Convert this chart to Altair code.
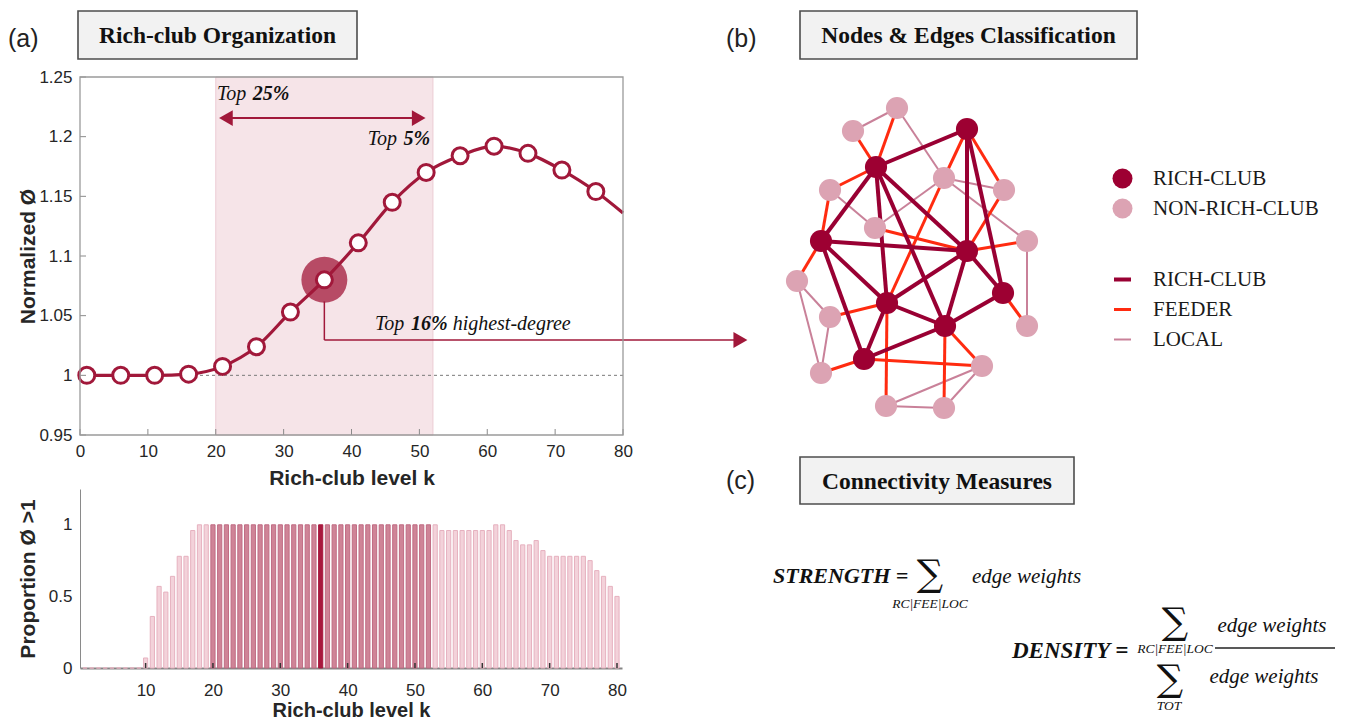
import altair as alt
import pandas as pd

# ---------------- data ----------------
# (a) rich-club curve: normalized phi vs rich-club level k
k_markers = [1, 6, 11, 16, 21, 26, 31, 36, 41, 46, 51, 56, 61, 66, 71, 76]
phi_markers = [1.000, 1.000, 1.000, 1.001, 1.0075, 1.024, 1.053, 1.080,
               1.111, 1.145, 1.170, 1.184, 1.192, 1.186, 1.172, 1.154]
k_tail = [80]
phi_tail = [1.136]
club_band = [20, 52]          # top 25% .. top 5%
focus_k = 36                  # top 16% highest-degree
x_ticks_top = [0, 10, 20, 30, 40, 50, 60, 70, 80]
y_ticks_top = [0.95, 1.0, 1.05, 1.1, 1.15, 1.2, 1.25]

# proportion of phi > 1 per level k
bar_k = list(range(1, 81))
bar_prop = ([0] * 9
            + [0.07, 0.36, 0.57, 0.53, 0.64, 0.78, 0.78, 0.96, 1, 1]
            + [1] * 33
            + [1]
            + [0.96] * 8
            + [1, 1, 0.96, 0.89, 0.86, 0.86, 0.89, 0.82]
            + [0.78] * 6
            + [0.75, 0.68, 0.64, 0.57, 0.50])
x_ticks_bot = [10, 20, 30, 40, 50, 60, 70, 80]
y_ticks_bot = [0, 0.5, 1]

# (b) network layout
node_id = ["R1", "R2", "R3", "R4", "R5", "R6", "R7", "R8",
           "N1", "N2", "N3", "N4", "N5", "N6", "N7", "N8", "N9", "N10", "N11", "N12", "N13", "N14"]
node_x = [207, 116, 61, 207, 243, 127, 185, 104,
          137, 93, 184, 70, 244, 115, 267, 37, 70, 267, 61, 222, 126, 184]
node_y = [52, 90, 164, 174, 216, 226, 249, 282,
          31, 54, 101, 113, 113, 151, 164, 204, 240, 249, 296, 289, 329, 331]
node_type = ["RICH-CLUB"] * 8 + ["NON-RICH-CLUB"] * 14

edges_local = [("N1", "N2"), ("N1", "N3"), ("N3", "N6"), ("N4", "N6"), ("N3", "N5"), ("N3", "N7"),
               ("N7", "N10"), ("N8", "N9"), ("N8", "N11"), ("N9", "N11"), ("N12", "N13"),
               ("N12", "N14"), ("N13", "N14")]
edges_feeder = [("N1", "R2"), ("N2", "R2"), ("N4", "R2"), ("N4", "R3"), ("R1", "N3"), ("R1", "N5"),
                ("N5", "R4"), ("N3", "R6"), ("N6", "R4"), ("N7", "R4"), ("N8", "R3"), ("N9", "R6"),
                ("N11", "R8"), ("R8", "N12"), ("R6", "N13"), ("R7", "N14"), ("R7", "N12"), ("R5", "N10")]
edges_rich = [("R1", "R2"), ("R1", "R4"), ("R1", "R5"), ("R2", "R3"), ("R2", "R4"), ("R2", "R6"),
              ("R2", "R7"), ("R3", "R4"), ("R3", "R6"), ("R3", "R8"), ("R4", "R6"), ("R4", "R7"),
              ("R4", "R5"), ("R5", "R7"), ("R6", "R7"), ("R6", "R8"), ("R7", "R8")]

node_types = ["RICH-CLUB", "NON-RICH-CLUB"]
node_colors = ["#9d0032", "#dca3b3"]
edge_types = ["RICH-CLUB", "FEEDER", "LOCAL"]
edge_colors = ["#990033", "#ff2b10", "#c98199"]

# texts
panel_labels = ["(a)", "(b)", "(c)"]
box_titles = ["Rich-club Organization", "Nodes & Edges Classification", "Connectivity Measures"]

# ---------------- styling ----------------
SANS = "Liberation Sans"
SERIF = "Liberation Serif"
DARK = "#a1183a"
W1, H1 = 543, 358
W2, H2 = 542, 179
WR = 580

one = alt.Data(values=[{"a": 0}])


def title_box(x0, x1, y0, y1, label):
    box = alt.Chart(one).mark_rect(fill="#f2f2f2", stroke="#4d4d4d", strokeWidth=1.6).encode(
        x=alt.value(x0), x2=alt.value(x1), y=alt.value(y0), y2=alt.value(y1))
    txt = alt.Chart(one).mark_text(text=label, font=SERIF, fontSize=23.5, fontWeight="bold",
                                   color="#111111", align="center", baseline="middle").encode(
        x=alt.value((x0 + x1) / 2), y=alt.value((y0 + y1) / 2 + 1))
    return [box, txt]


def panel_label(x, y, label):
    return alt.Chart(one).mark_text(text=label, font=SANS, fontSize=25, color="#222222",
                                    align="left", baseline="middle").encode(
        x=alt.value(x), y=alt.value(y))


# ---------------- (a) top chart ----------------
xs = alt.Scale(domain=[0, 80], nice=False, zero=False)
ys = alt.Scale(domain=[0.95, 1.25], nice=False, zero=False)
xa = alt.Axis(values=x_ticks_top, title="Rich-club level k", labelPadding=8, labelFlush=False,
              titleX=W1 / 2, titleY=43, titleBaseline="middle", domain=False)
ya = alt.Axis(values=y_ticks_top, format="~g", title="Normalized Ø", labelPadding=8, labelFlush=False,
              titleX=-52, titleY=H1 / 2, titleBaseline="middle", domain=False)

marker_df = pd.DataFrame({"k": k_markers, "phi": phi_markers})
line_df = pd.DataFrame({"k": k_markers + k_tail, "phi": phi_markers + phi_tail})
band_df = pd.DataFrame({"k": [club_band[0]], "k_end": [club_band[1]]})
xt_df = pd.DataFrame({"k": x_ticks_top})
yt_df = pd.DataFrame({"phi": y_ticks_top})


def XD(v):
    return alt.XDatum(v, scale=xs, axis=xa)


def YD(v):
    return alt.YDatum(v, scale=ys, axis=ya)


band = alt.Chart(band_df).mark_rect(fill="#f6e4e8", stroke="#ecccd4", strokeWidth=1).encode(
    x=alt.X("k:Q", scale=xs, axis=xa), x2="k_end:Q", y=alt.value(0), y2=alt.value(H1))
frame = alt.Chart(one).mark_rect(filled=False, stroke="#9a9a9a", strokeWidth=1.3).encode(
    x=alt.value(0), x2=alt.value(W1), y=alt.value(0), y2=alt.value(H1))
xticks = alt.Chart(xt_df).mark_rule(color="#8a8a8a", strokeWidth=1).encode(
    x=alt.X("k:Q", scale=xs, axis=xa), y=alt.value(H1), y2=alt.value(H1 - 6))
yticks = alt.Chart(yt_df).mark_rule(color="#8a8a8a", strokeWidth=1).encode(
    y=alt.Y("phi:Q", scale=ys, axis=ya), x=alt.value(0), x2=alt.value(6))
ref1 = alt.Chart(one).mark_rule(color="#7a7a7a", strokeWidth=1, strokeDash=[3, 3]).encode(
    y=YD(1.0))
curve = alt.Chart(line_df).mark_line(color=DARK, strokeWidth=3.2, interpolate="monotone").encode(
    x=alt.X("k:Q", scale=xs, axis=xa), y=alt.Y("phi:Q", scale=ys, axis=ya))
focus = alt.Chart(marker_df).transform_filter(alt.datum.k == focus_k).mark_circle(
    size=2116, color=DARK, opacity=0.75).encode(
    x=alt.X("k:Q", scale=xs, axis=xa), y=alt.Y("phi:Q", scale=ys, axis=ya))
conn_v = alt.Chart(one).mark_rule(color=DARK, strokeWidth=1.5).encode(
    x=XD(focus_k), y=YD(1.062), y2=alt.Y2Datum(1.0296))
conn_h = alt.Chart(one).mark_rule(color=DARK, strokeWidth=1.5).encode(
    x=XD(focus_k), x2=alt.X2Datum(97.0), y=YD(1.0296))
conn_head = alt.Chart(one).mark_point(shape="triangle-right", filled=True, size=260, color=DARK,
                                      opacity=1).encode(x=XD(97.3), y=YD(1.0296))
markers = alt.Chart(marker_df).mark_point(shape="circle", size=256, filled=True, fill="white",
                                          stroke=DARK, strokeWidth=3, opacity=1).encode(
    x=alt.X("k:Q", scale=xs, axis=xa), y=alt.Y("phi:Q", scale=ys, axis=ya))
arr_line = alt.Chart(one).mark_rule(color=DARK, strokeWidth=2).encode(
    x=XD(21.5), x2=alt.X2Datum(49.9), y=YD(1.2156))
arr_l = alt.Chart(one).mark_point(shape="triangle-left", filled=True, size=250, color=DARK,
                                  opacity=1).encode(x=XD(21.5), y=YD(1.2156))
arr_r = alt.Chart(one).mark_point(shape="triangle-right", filled=True, size=250, color=DARK,
                                  opacity=1).encode(x=XD(49.9), y=YD(1.2156))


def ann(text, k, phi, bold=False):
    return alt.Chart(one).mark_text(text=text, font=SERIF, fontSize=20, fontStyle="italic",
                                    fontWeight="bold" if bold else "normal", color="#111111",
                                    align="left", baseline="middle").encode(x=XD(k), y=YD(phi))


anns = [ann("Top", 20.18, 1.2357), ann("25%", 25.45, 1.2357, True),
        ann("Top", 42.4, 1.198), ann("5%", 47.65, 1.198, True),
        ann("Top", 43.45, 1.043), ann("16%", 48.75, 1.043, True), ann("highest-degree", 54.9, 1.043)]

top = alt.layer(
    band, ref1, curve, focus, conn_v, conn_h, conn_head, markers, arr_line, arr_l, arr_r,
    *anns, xticks, yticks, frame,
    *title_box(-2, 277, -66, -18, box_titles[0]),
    panel_label(-72, -38, panel_labels[0]),
).properties(width=W1, height=H1)

# ---------------- (a) bottom chart ----------------
bx = alt.Scale(domain=[1, 80], nice=False, zero=False)
by = alt.Scale(domain=[0, 1.25], nice=False)
bxa = alt.Axis(values=x_ticks_bot, title="Rich-club level k", labelPadding=14, labelFlush=False,
               titleX=W2 / 2, titleY=42.5, titleBaseline="middle", titleFontSize=20, domain=True,
               domainColor="#858585", domainWidth=2)
bya = alt.Axis(values=y_ticks_bot, format="~g", title="Proportion Ø >1", labelPadding=8,
               labelFlush=False, titleX=-52, titleY=H2 / 2, titleBaseline="middle", domain=True,
               domainColor="#8a8a8a", domainWidth=1)
bar_df = pd.DataFrame({"k": bar_k, "prop": bar_prop})


def bars(flt, fill, stroke):
    return alt.Chart(bar_df).transform_filter(flt).mark_bar(
        width=4.2, fill=fill, stroke=stroke, strokeWidth=1).encode(
        x=alt.X("k:Q", scale=bx, axis=bxa), y=alt.Y("prop:Q", scale=by, axis=bya))


in_club = (alt.datum.k >= club_band[0]) & (alt.datum.k <= club_band[1])
bars_light = bars(~in_club, "#f3d2da", "#e6b1bf")
bars_club = bars(in_club & (alt.datum.k != focus_k), "#cf8497", "#c06c84")
bars_focus = bars(alt.datum.k == focus_k, "#a8193e", "#a8193e")
bt_df = pd.DataFrame({"k": x_ticks_bot})
bticks = alt.Chart(bt_df).mark_rule(color="#333333", strokeWidth=1.5).encode(
    x=alt.X("k:Q", scale=bx, axis=bxa), y=alt.value(H2), y2=alt.value(H2 - 5))

bottom = alt.layer(bars_light, bars_club, bars_focus, bticks).properties(width=W2, height=H2)

# ---------------- (b) network ----------------
nx = alt.Scale(domain=[0, WR], nice=False, zero=False)
ny = alt.Scale(domain=[0, H1], nice=False, zero=False, reverse=True)
pos = {n: (x, y) for n, x, y in zip(node_id, node_x, node_y)}
erows = []
for lst, et in [(edges_local, "LOCAL"), (edges_feeder, "FEEDER"), (edges_rich, "RICH-CLUB")]:
    for a, b in lst:
        erows.append({"x1": pos[a][0], "y1": pos[a][1], "x2": pos[b][0], "y2": pos[b][1], "etype": et})
edge_df = pd.DataFrame(erows)
node_df = pd.DataFrame({"id": node_id, "x": node_x, "y": node_y, "ntype": node_type})

legend_common = dict(title=None, orient="none", labelFont=SERIF, labelFontSize=21,
                     labelColor="#1a1a1a", rowPadding=8, padding=0, labelLimit=400)

edges = alt.Chart(edge_df).mark_rule().encode(
    x=alt.X("x1:Q", scale=nx, axis=None), y=alt.Y("y1:Q", scale=ny, axis=None),
    x2="x2:Q", y2="y2:Q",
    stroke=alt.Stroke("etype:N", scale=alt.Scale(domain=edge_types, range=edge_colors),
                      legend=alt.Legend(legendX=352, legendY=192, symbolType="stroke",
                                        symbolStrokeWidth=5, symbolSize=289, labelOffset=20,
                                        **legend_common)),
    strokeWidth=alt.StrokeWidth("etype:N", scale=alt.Scale(domain=edge_types, range=[4, 2, 1.6]),
                                legend=None))
nodes = alt.Chart(node_df).mark_circle(opacity=1, size=490).encode(
    x=alt.X("x:Q", scale=nx, axis=None), y=alt.Y("y:Q", scale=ny, axis=None),
    fill=alt.Fill("ntype:N", scale=alt.Scale(domain=node_types, range=node_colors),
                  legend=alt.Legend(legendX=352, legendY=91, symbolType="circle", symbolSize=400,
                                    symbolStrokeWidth=0, labelOffset=20, **legend_common)))

network = alt.layer(
    edges, nodes,
    *title_box(40, 377, -66, -18, box_titles[1]),
    panel_label(-34, -38, panel_labels[1]),
).properties(width=WR, height=H1)

# ---------------- (c) formulas ----------------


def ftxt(text, x, y, size, style="italic", weight="normal", align="left", font=SERIF):
    return alt.Chart(one).mark_text(text=text, font=font, fontSize=size, fontStyle=style,
                                    fontWeight=weight, color="#111111", align=align,
                                    baseline="middle").encode(x=alt.value(x), y=alt.value(y))


SIGMA = "∑"
SIG = 37
formula = alt.layer(
    *title_box(40, 314, -32, 15, box_titles[2]),
    panel_label(-34, -8, panel_labels[2]),
    ftxt("STRENGTH =", 13, 87, 22, weight="bold"),
    ftxt(SIGMA, 170, 86, SIG, style="normal", align="center", font="DejaVu Serif"),
    ftxt("RC|FEE|LOC", 170, 115, 13.5, align="center"),
    ftxt("edge weights", 212, 88, 21),
    ftxt("DENSITY =", 252, 162, 23, weight="bold"),
    ftxt(SIGMA, 415, 134, SIG, style="normal", align="center", font="DejaVu Serif"),
    ftxt("RC|FEE|LOC", 415, 160, 13.5, align="center"),
    alt.Chart(one).mark_rule(color="#222222", strokeWidth=1.3).encode(
        x=alt.value(455), x2=alt.value(575), y=alt.value(159)),
    ftxt("edge weights", 512, 137, 21, align="center"),
    ftxt(SIGMA, 410, 191, SIG, style="normal", align="center", font="DejaVu Serif"),
    ftxt("TOT", 409, 217, 13.5, align="center"),
    ftxt("edge weights", 504, 188, 21, align="center"),
).properties(width=WR, height=H2)

chart = alt.concat(
    top, network, bottom, formula,
    columns=2, spacing={"row": 54, "column": 137}, bounds="flush",
).resolve_scale(
    fill="independent", stroke="independent", strokeWidth="independent"
).properties(
    padding={"top": 2, "left": 0, "right": 0, "bottom": 0}
).configure_view(stroke=None).configure_axis(
    labelFont=SANS, labelFontSize=17, labelColor="#262626",
    titleFont=SANS, titleFontSize=21, titleFontWeight="bold", titleColor="#262626",
    ticks=False, grid=False,
)

chart.save("out.html", embed_options={"renderer": "svg", "actions": False})
